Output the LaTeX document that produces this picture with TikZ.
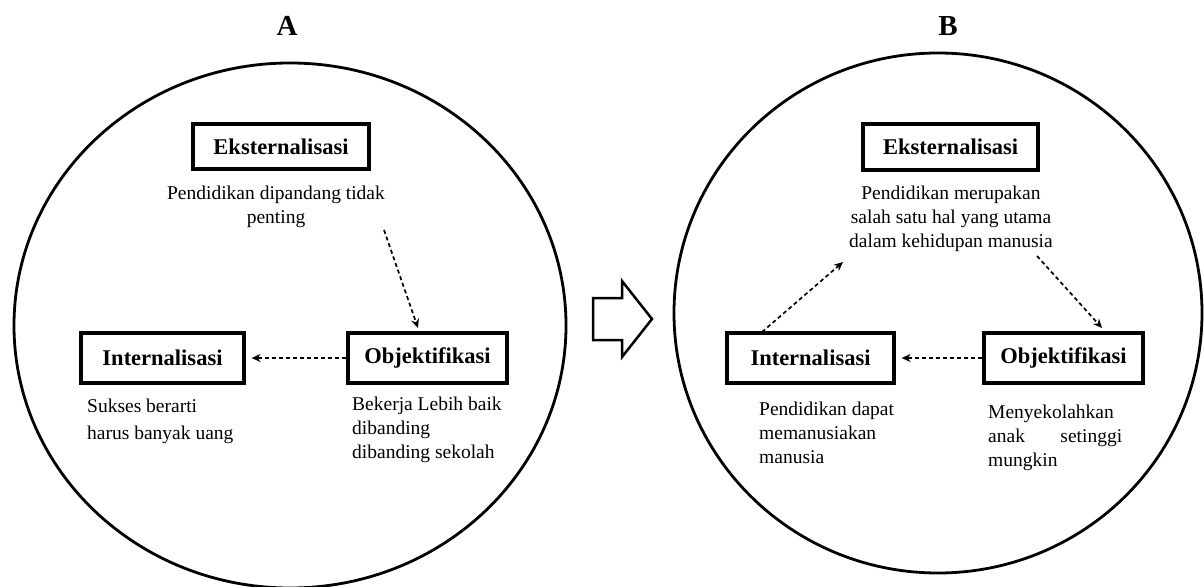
\documentclass[tikz,border=0pt]{standalone}
\usepackage{fontspec}
\setmainfont{Liberation Serif}
\usetikzlibrary{arrows.meta,calc}
\begin{document}
\begin{tikzpicture}[x=1pt,y=-1pt,
  ring/.style={draw,line width=2.8pt},
  label box/.style={draw,line width=3.2pt,inner sep=0pt,font=\fontsize{22.5}{26}\selectfont\bfseries},
  desc/.style={inner sep=0pt,font=\fontsize{19.5}{24}\selectfont},
  title/.style={font=\fontsize{29}{32}\selectfont\bfseries},
  flow/.style={line width=1.7pt,dash pattern=on 4pt off 3pt,-{Stealth[length=9pt,width=8pt]}}]
\useasboundingbox (0,0) rectangle (1204,586);
\fill[white] (0,0) rectangle (1204,586);
% titles
\node[title] (tA) at (287,26) {A};
\node[title] (tB) at (948,26) {B};
% circles
\draw[ring] (290,325.5) ellipse [x radius=276, y radius=262.5];
\draw[ring] (938,313) ellipse [x radius=264, y radius=260];
% --- A ---
\node[label box,minimum width=176,minimum height=45] (eA) at (281,146.5) {Eksternalisasi};
\node[label box,minimum width=163,minimum height=50] (iA) at (162.5,358) {Internalisasi};
\node[label box,minimum width=159,minimum height=50] (oA) at (427.5,358) {Objektifikasi};
\node[desc,align=center,anchor=north] (eAt) at (276,185.3) {Pendidikan dipandang tidak\\penting};
\node[desc,align=left,anchor=north west,font=\fontsize{19.5}{27}\selectfont] (iAt) at (87,398.3) {Sukses berarti\\harus banyak uang};
\node[desc,align=left,anchor=north west] (oAt) at (352,396.3) {Bekerja Lebih baik\\dibanding\\dibanding sekolah};
\coordinate (a1s) at (384,230);
\coordinate (a1e) at (418,328);
\draw[flow] (a1s) -- (a1e);
\draw[flow,shorten >=6pt] (oA.west) -- (iA.east);
% --- B ---
\node[label box,minimum width=175,minimum height=46] (eB) at (950.5,147) {Eksternalisasi};
\node[label box,minimum width=167,minimum height=50] (iB) at (810.5,358) {Internalisasi};
\node[label box,minimum width=159,minimum height=50] (oB) at (1063.5,358) {Objektifikasi};
\node[desc,align=center,anchor=north] (eBt) at (951,185.8) {Pendidikan merupakan\\salah satu hal yang utama\\dalam kehidupan manusia};
\node[desc,align=left,anchor=north west] (iBt) at (759,401.3) {Pendidikan dapat\\memanusiakan\\manusia};
\node[desc,align=left,anchor=north west] (oBt) at (988,404.3) {Menyekolahkan\\\hbox to 134pt{anak\hfill setinggi}\\mungkin};
\coordinate (b1s) at (1037,256);
\coordinate (b1e) at (1102,328);
\coordinate (b2s) at (762,332);
\coordinate (b2e) at (843,262);
\draw[flow] (b1s) -- (b1e);
\draw[flow,shorten >=6pt] (oB.west) -- (iB.east);
\draw[flow] (b2s) -- (b2e);
% hollow arrow
\draw[line width=2.5pt,line join=miter] (593,298) -- (622,298) -- (622,281) -- (652,319) -- (622,357) -- (622,340) -- (593,340) -- cycle;
\end{tikzpicture}
\end{document}
